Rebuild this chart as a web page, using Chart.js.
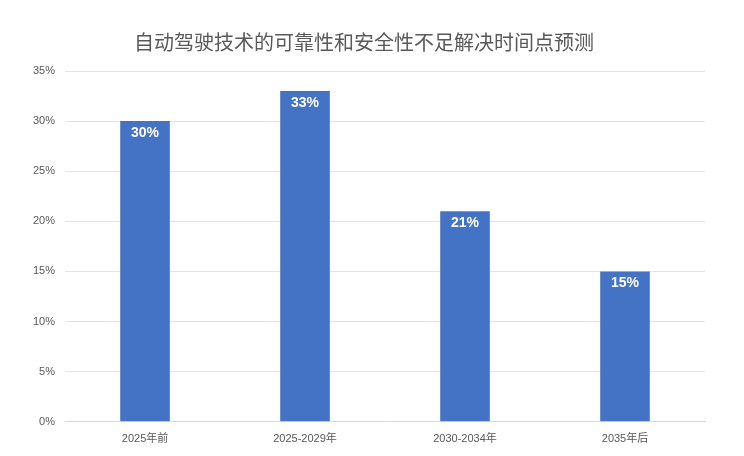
<!DOCTYPE html>
<html>
<head>
<meta charset="utf-8">
<script src="https://cdn.jsdelivr.net/npm/chart.js@4"></script>
<style>
  html, body { margin: 0; padding: 0; background: #fff; }
  #wrap { width: 744px; height: 456px; }
</style>
</head>
<body>
<div id="wrap"><canvas id="chart"></canvas></div>
<script>
const categories = ["2025年前", "2025-2029年", "2030-2034年", "2035年后"];
const shares = [30, 33, 21, 15];
const yTicks = [0, 5, 10, 15, 20, 25, 30, 35];

const fontFamily = "'Liberation Sans', 'Noto Sans CJK SC', sans-serif";

// white value labels drawn just inside the top of each bar
const barLabels = {
    id: "barLabels",
    afterDatasetsDraw(chart) {
        const ctx = chart.ctx;
        const meta = chart.getDatasetMeta(0);
        ctx.save();
        ctx.fillStyle = "#ffffff";
        ctx.font = "bold 14px " + fontFamily;
        ctx.textAlign = "center";
        ctx.textBaseline = "middle";
        meta.data.forEach((bar, i) => {
            ctx.fillText(shares[i] + "%", bar.x, bar.y + 12);
        });
        ctx.restore();
    }
};

new Chart(document.getElementById("chart"), {
    type: "bar",
    data: {
        labels: categories,
        datasets: [{
            data: shares,
            backgroundColor: "#4472C4",
            categoryPercentage: 1,
            barPercentage: 0.31
        }]
    },
    options: {
        responsive: true,
        maintainAspectRatio: false,
        animation: false,
        layout: { padding: { left: 23, right: 39, top: 32, bottom: 7 } },
        plugins: {
            legend: { display: false },
            tooltip: { enabled: false },
            title: {
                display: true,
                text: "自动驾驶技术的可靠性和安全性不足解决时间点预测",
                color: "#595959",
                font: { family: fontFamily, size: 20, weight: "normal" },
                padding: { top: 0, bottom: 15 }
            }
        },
        scales: {
            x: {
                grid: { display: false },
                border: { color: "#d9d9d9" },
                ticks: {
                    color: "#595959",
                    font: { family: fontFamily, size: 11 },
                    padding: 3
                }
            },
            y: {
                min: 0,
                max: 35,
                afterBuildTicks(axis) {
                    axis.ticks = yTicks.map(v => ({ value: v }));
                },
                grid: { color: "#e4e4e4", drawTicks: false },
                border: { display: false },
                ticks: {
                    color: "#595959",
                    font: { family: fontFamily, size: 11 },
                    padding: 10,
                    callback: v => v + "%"
                }
            }
        }
    },
    plugins: [barLabels]
});
</script>
</body>
</html>
